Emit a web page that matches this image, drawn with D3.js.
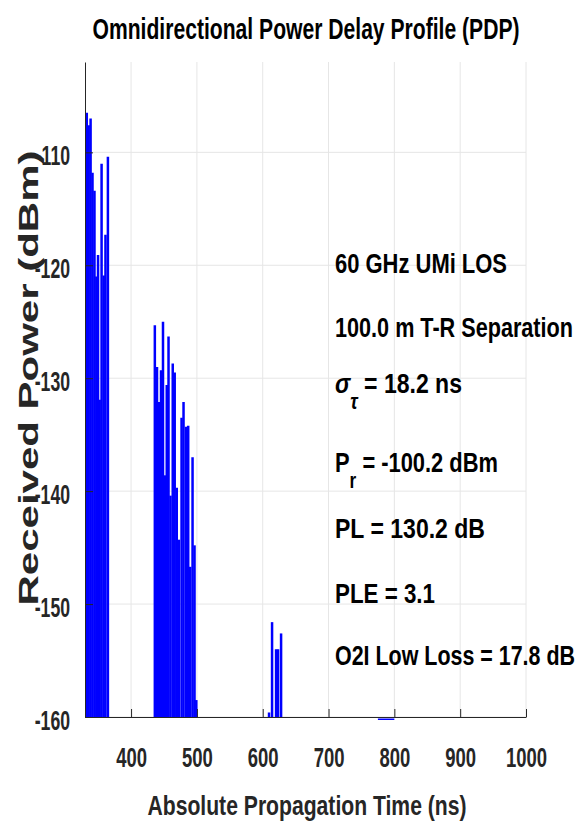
<!DOCTYPE html>
<html>
<head>
<meta charset="utf-8" />
<style>
body {
	margin: 0;
	background: #fff;
}
svg {
	display: block;
}
text {
	font-family: "Liberation Sans Narrow", "Liberation Sans", Arial, Helvetica, sans-serif;
	font-weight: bold;
	fill: #262626;
}
.grid line {
	stroke: #e6e6e6;
	stroke-width: 1;
}
.axis path,
.axis line {
	stroke: #262626;
	stroke-width: 1;
}
.axis text {
	font-family: "Liberation Sans", Arial, sans-serif;
	font-size: 28px;
}
.stem {
	stroke: #0000ff;
	stroke-width: 2.5;
}
.floor {
	fill: none;
	stroke: #0000ff;
	stroke-width: 1.5;
}
.stat {
	font-size: 28px;
	fill: #000;
}
</style>
</head>
<body>
<script src="https://d3js.org/d3.v7.min.js"></script>
<script>
// first cluster (LOS and nearby multipath)
var delaysA = [332.7, 335.6, 338.5, 341.4, 344.4, 347.2, 349.8, 352.3, 355.2, 358.4, 361.1, 364.8];
var powerA = [-106.5, -107.6, -107.0, -111.8, -113.4, -121.0, -119.1, -131.9, -111.0, -120.9, -117.3, -110.4];

// second cluster
var delaysB = [436.1, 439.4, 442.8, 445.5, 448.5, 451.3, 454.2, 456.9, 459.9, 463.3, 466.3,
    469.4, 472.6, 476.7, 479.7, 483.5, 486.8, 489.9, 493.4, 496.4, 499.1];
var powerB = [-125.3, -129.0, -132.1, -129.3, -125.0, -138.6, -130.6, -126.3, -140.4, -128.7, -129.5,
    -139.7, -144.3, -133.5, -132.1, -134.3, -134.2, -146.7, -137.0, -144.8, -158.5];

// third cluster
var delaysC = [609.6, 614.2, 620.3, 623.3, 627.9];
var powerC = [-159.6, -151.6, -154.0, -154.0, -152.6];

// trace sitting just under the floor
var floorDelays = [775, 780, 785, 790, 795, 800];
var floorPower = [-160.2, -160.2, -160.2, -160.2, -160.2, -160.2];

var xTicks = [400, 500, 600, 700, 800, 900, 1000];
var yTicks = [-160, -150, -140, -130, -120, -110];

var statRows = [
	[{t: "60 GHz UMi LOS"}],
	[{t: "100.0 m T-R Separation"}],
	[{t: "\u03c3", it: true}, {t: "\u03c4", it: true, sub: true}, {t: " = 18.2 ns"}],
	[{t: "P"}, {t: "r", sub: true}, {t: " = -100.2 dBm"}],
	[{t: "PL = 130.2 dB"}],
	[{t: "PLE = 3.1"}],
	[{t: "O2I Low Loss = 17.8 dB"}]
];
var statBaselines = [273, 337, 393, 472, 538, 603, 665];
var statWidths = [172, 238, 127, 163, 150, 100, 240];

var W = 587, H = 832;
var plotLeft = 85, plotRight = 526, plotTop = 62, plotBottom = 717;

var x = d3.scaleLinear().domain([330, 1000]).range([plotLeft, plotRight]);
var y = d3.scaleLinear().domain([-160, -102]).range([plotBottom, plotTop]);

var svg = d3.select("body").append("svg")
	.attr("width", W)
	.attr("height", H);

// the exported figure is narrow, so texts get fitted to a width
function squeeze(sel, k) {
	sel.each(function() {
		var w = this.getComputedTextLength();
		d3.select(this)
			.attr("textLength", w * k)
			.attr("lengthAdjust", "spacingAndGlyphs");
	});
}
function fitWidth(sel, w) {
	sel.attr("textLength", w).attr("lengthAdjust", "spacingAndGlyphs");
}

var grid = svg.append("g").attr("class", "grid");
grid.selectAll(".gx").data(xTicks).enter().append("line")
	.attr("x1", function(d) { return x(d); })
	.attr("x2", function(d) { return x(d); })
	.attr("y1", plotTop)
	.attr("y2", plotBottom);
grid.selectAll(".gy").data(yTicks).enter().append("line")
	.attr("x1", plotLeft)
	.attr("x2", plotRight)
	.attr("y1", function(d) { return y(d); })
	.attr("y2", function(d) { return y(d); });

// stems
var pts = [];
[[delaysA, powerA], [delaysB, powerB], [delaysC, powerC]].forEach(function(c) {
	for (var i = 0; i < c[0].length; i++) pts.push([c[0][i], c[1][i]]);
});

svg.append("g").selectAll("line").data(pts).enter().append("line")
	.attr("class", "stem")
	.attr("x1", function(d) { return x(d[0]); })
	.attr("x2", function(d) { return x(d[0]); })
	.attr("y1", y(-160))
	.attr("y2", function(d) { return y(d[1]); });

var floorLine = d3.line()
	.x(function(d, i) { return x(floorDelays[i]); })
	.y(function(d) { return y(d); });
svg.append("path")
	.attr("class", "floor")
	.attr("d", floorLine(floorPower));

// axes
var plain = function(d) { return String(d); };
var xAxis = svg.append("g")
	.attr("class", "axis")
	.attr("transform", "translate(0," + plotBottom + ")")
	.call(d3.axisBottom(x).tickValues(xTicks).tickFormat(plain)
		.tickSize(-8).tickSizeOuter(0).tickPadding(30));
var yAxis = svg.append("g")
	.attr("class", "axis")
	.attr("transform", "translate(" + plotLeft + ",0)")
	.call(d3.axisLeft(y).tickValues(yTicks).tickFormat(plain)
		.tickSize(-8).tickSizeOuter(0).tickPadding(15));

xAxis.selectAll("text").attr("fill", "#262626");
yAxis.selectAll("text").attr("fill", "#262626").attr("dy", "0.45em");
squeeze(xAxis.selectAll("text"), 0.66);
squeeze(yAxis.selectAll("text"), 0.63);

// titles
var title = svg.append("text")
	.attr("x", 306)
	.attr("y", 39)
	.attr("text-anchor", "middle")
	.style("font-size", "29px")
	.style("fill", "#000")
	.text("Omnidirectional Power Delay Profile (PDP)");
fitWidth(title, 427);

var xLabel = svg.append("text")
	.attr("x", 307)
	.attr("y", 815)
	.attr("text-anchor", "middle")
	.style("font-size", "28px")
	.text("Absolute Propagation Time (ns)");
fitWidth(xLabel, 319);

var yLabel = svg.append("text")
	.attr("transform", "translate(38,378) rotate(-90)")
	.attr("text-anchor", "middle")
	.style("font-family", "'Liberation Sans', Arial, sans-serif")
	.style("font-size", "28px")
	.text("Received Power (dBm)");
fitWidth(yLabel, 455);

// measurement summary
statRows.forEach(function(row, i) {
	var t = svg.append("text")
		.attr("class", "stat")
		.attr("x", 335)
		.attr("y", statBaselines[i]);
	var down = 0;
	row.forEach(function(p) {
		var shift = (p.sub ? 16 : 0) - down;
		down = p.sub ? 16 : 0;
		t.append("tspan")
			.attr("dy", shift)
			.style("font-style", p.it ? "italic" : null)
			.style("font-size", p.sub ? "22px" : null)
			.text(p.t);
	});
	fitWidth(t, statWidths[i]);
});
</script>
</body>
</html>
